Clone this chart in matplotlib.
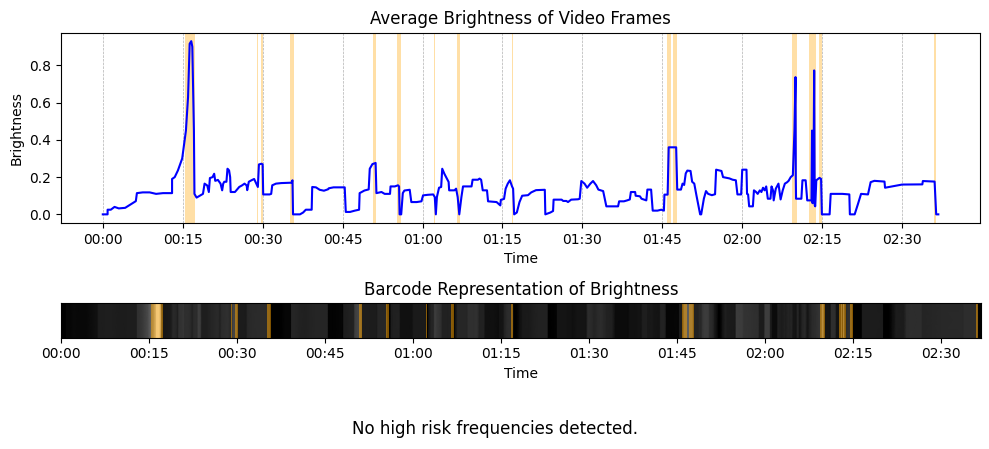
import matplotlib
matplotlib.use("Agg")
import matplotlib.pyplot as plt
import numpy as np
from matplotlib.ticker import MultipleLocator, FuncFormatter

# brightness samples (time in minutes, mean brightness 0..1)
t_min = [0.0, 0.9, 0.9, 1.5, 2.2, 3.0, 4.2, 5.4, 6.2, 6.4, 7.5, 8.8, 10.0, 11.3, 13.0,
         13.0, 13.5, 14.1, 14.9, 15.6, 16.0, 16.3, 16.6, 16.8, 17.1, 17.2, 17.6, 18.2, 18.8,
         19.1, 19.6, 19.9, 20.1, 20.6, 20.9, 21.1, 21.6, 22.1, 22.4, 22.6, 22.8, 23.2, 23.4,
         23.7, 23.9, 24.0, 24.8, 25.1, 25.6, 26.1, 26.6, 27.0, 27.1, 27.4, 27.9, 28.4, 28.8,
         29.1, 29.3, 29.8, 30.0, 30.1, 31.3, 31.6, 31.8, 32.5, 33.5, 35.4, 35.6, 35.7, 37.0,
         37.6, 38.1, 39.2, 39.3, 40.0, 40.7, 41.5, 42.3, 42.4, 43.3, 45.4, 45.6, 46.4, 47.3,
         48.1, 48.2, 49.1, 49.9, 50.1, 50.6, 51.2, 51.35, 52.3, 52.9, 53.9, 54.0, 54.8, 55.4,
         55.6, 55.7, 56.0, 56.3, 56.6, 57.6, 57.9, 58.9, 59.8, 60.1, 61.0, 62.0, 62.3, 62.5,
         62.7, 63.1, 63.5, 63.7, 64.1, 64.9, 65.0, 66.0, 66.3, 66.6, 66.9, 67.3, 67.6, 68.2,
         69.2, 69.4, 70.4, 70.7, 71.0, 71.3, 72.1, 72.3, 73.9, 74.6, 74.7, 75.3, 75.6, 76.0,
         76.4, 76.8, 77.0, 77.2, 77.7, 78.2, 78.7, 79.8, 80.4, 81.3, 82.6, 82.95, 83.05, 84.0,
         84.5, 84.6, 86.1, 86.4, 87.0, 87.3, 87.9, 89.2, 89.5, 89.8, 90.4, 90.9, 91.5, 92.0,
         92.6, 93.0, 93.9, 94.5, 96.7, 96.9, 97.8, 98.4, 98.9, 99.1, 99.9, 100.0, 100.8, 101.1,
         102.0, 102.2, 102.9, 103.2, 104.1, 104.8, 105.3, 105.4, 106.0, 106.2, 107.6, 107.8,
         108.5, 108.8, 109.1, 109.4, 109.7, 110.3, 110.6, 111.0, 111.4, 112.1, 112.3, 112.8,
         113.2, 113.6, 114.3, 114.9, 115.1, 116.1, 116.4, 117.6, 118.2, 118.8, 119.1, 119.8,
         120.0, 120.8, 120.9, 121.1, 121.3, 122.0, 122.2, 122.6, 122.9, 123.3, 123.6, 123.9,
         124.2, 124.5, 124.8, 125.3, 125.5, 125.8, 125.9, 126.3, 126.8, 127.2, 127.6, 128.0,
         128.4, 128.7, 129.1, 129.5, 129.8, 130.0, 130.05, 130.1, 130.6, 131.1, 131.3, 131.9,
         132.2, 133.0, 133.1, 133.2, 133.4, 133.5, 133.6, 133.7, 133.9, 134.5, 134.8, 134.95,
         136.4, 136.6, 138.8, 140.1, 140.2, 141.1, 141.7, 142.3, 143.6, 144.1, 144.8, 146.7,
         146.8, 150.0, 153.8, 153.9, 156.1, 156.4, 156.8]
brightness = [0.0, 0.0, 0.025, 0.025, 0.04, 0.032, 0.035, 0.057, 0.071, 0.114, 0.118, 0.118, 0.11, 0.114, 0.114,
              0.19, 0.20, 0.236, 0.30, 0.45, 0.63, 0.916, 0.93, 0.90, 0.45, 0.11, 0.09, 0.10, 0.11,
              0.165, 0.155, 0.12, 0.195, 0.20, 0.218, 0.18, 0.185, 0.165, 0.129, 0.165, 0.175, 0.175, 0.245,
              0.236, 0.20, 0.12, 0.12, 0.13, 0.147, 0.155, 0.165, 0.155, 0.13, 0.175, 0.183, 0.19, 0.165,
              0.147, 0.268, 0.272, 0.268, 0.107, 0.107, 0.11, 0.156, 0.165, 0.168, 0.17, 0.183, 0.0, 0.0,
              0.01, 0.025, 0.025, 0.147, 0.145, 0.132, 0.127, 0.135, 0.14, 0.145, 0.145, 0.013, 0.013, 0.02,
              0.025, 0.114, 0.128, 0.134, 0.245, 0.27, 0.276, 0.114, 0.12, 0.11, 0.11, 0.15, 0.15, 0.156,
              0.15, 0.0, 0.0, 0.114, 0.128, 0.132, 0.066, 0.066, 0.07, 0.102, 0.105, 0.107, 0.093, 0.0,
              0.093, 0.143, 0.147, 0.245, 0.218, 0.174, 0.129, 0.129, 0.138, 0.093, 0.0, 0.093, 0.15, 0.15,
              0.15, 0.186, 0.186, 0.192, 0.186, 0.129, 0.129, 0.07, 0.066, 0.048, 0.078, 0.083, 0.138, 0.165,
              0.183, 0.15, 0.138, 0.0, 0.01, 0.066, 0.10, 0.103, 0.118, 0.13, 0.132, 0.132, 0.0, 0.01,
              0.018, 0.079, 0.079, 0.072, 0.072, 0.066, 0.079, 0.081, 0.084, 0.179, 0.165, 0.143, 0.165, 0.179,
              0.156, 0.133, 0.125, 0.043, 0.043, 0.07, 0.07, 0.075, 0.08, 0.12, 0.12, 0.10, 0.097, 0.084,
              0.075, 0.133, 0.133, 0.02, 0.02, 0.025, 0.02, 0.106, 0.106, 0.36, 0.36, 0.133,
              0.133, 0.165, 0.158, 0.22, 0.235, 0.233, 0.175, 0.165, 0.103, 0.0, 0.0, 0.084,
              0.125, 0.11, 0.103, 0.108, 0.24, 0.233, 0.20, 0.193, 0.186, 0.183, 0.107, 0.107,
              0.24, 0.24, 0.11, 0.107, 0.043, 0.043, 0.129, 0.12, 0.11, 0.129, 0.12, 0.143,
              0.129, 0.15, 0.084, 0.084, 0.15, 0.127, 0.075, 0.138, 0.165, 0.08, 0.129, 0.165,
              0.172, 0.18, 0.20, 0.21, 0.45, 0.737, 0.2, 0.084, 0.084, 0.084, 0.183, 0.183,
              0.075, 0.075, 0.45, 0.06, 0.30, 0.773, 0.05, 0.043, 0.183, 0.196, 0.19, 0.0,
              0.0, 0.11, 0.11, 0.107, 0.0, 0.0, 0.054, 0.11, 0.107, 0.173, 0.18, 0.176,
              0.143, 0.16, 0.161, 0.179, 0.176, 0.0, 0.0]

# flagged intervals (minutes)
flag_start = [15.4, 29.0, 29.6, 35.1, 50.8, 55.3, 62.2, 66.5, 76.7, 105.8, 107.1, 129.3, 132.6, 134.5, 155.9]
flag_end = [17.3, 29.2, 30.1, 35.8, 51.3, 55.9, 62.4, 67.0, 77.0, 106.6, 107.8, 130.2, 133.8, 135.0, 156.3]

t_min = np.array(t_min)
brightness = np.array(brightness)


def hhmm(x, pos):
    m = int(round(x))
    return f"{m // 60:02d}:{m % 60:02d}"


fig = plt.figure(figsize=(9.89, 4.49), dpi=100)
ax1 = fig.add_axes([0.0617, 0.5033, 0.9293, 0.4243])
ax2 = fig.add_axes([0.0617, 0.2483, 0.9303, 0.0769])

# top: brightness line
ax1.plot(t_min, brightness, color='blue', linewidth=1.5)
for s, e in zip(flag_start, flag_end):
    ax1.axvspan(s, e, color='orange', alpha=0.35, linewidth=0)
ax1.set_title('Average Brightness of Video Frames')
ax1.set_xlabel('Time')
ax1.set_ylabel('Brightness')
ax1.xaxis.set_major_locator(MultipleLocator(15))
ax1.xaxis.set_major_formatter(FuncFormatter(hhmm))
ax1.grid(axis='x', linestyle='--', linewidth=0.5)

# barcode
ax2.pcolormesh(t_min, [0, 1], np.vstack([brightness, brightness]),
               cmap='gray', vmin=0, vmax=1, shading='gouraud')
for s, e in zip(flag_start, flag_end):
    ax2.axvspan(s, e, color='orange', alpha=0.5, linewidth=0)
ax2.set_xlim(0, t_min[-1])
ax2.set_ylim(0, 1)
ax2.set_yticks([])
ax2.set_title('Barcode Representation of Brightness')
ax2.set_xlabel('Time')
ax2.xaxis.set_major_locator(MultipleLocator(15))
ax2.xaxis.set_major_formatter(FuncFormatter(hhmm))

fig.text(0.5, 0.045, 'No high risk frequencies detected.', ha='center', va='center', fontsize=12)

fig.savefig('out.png', dpi=100)
